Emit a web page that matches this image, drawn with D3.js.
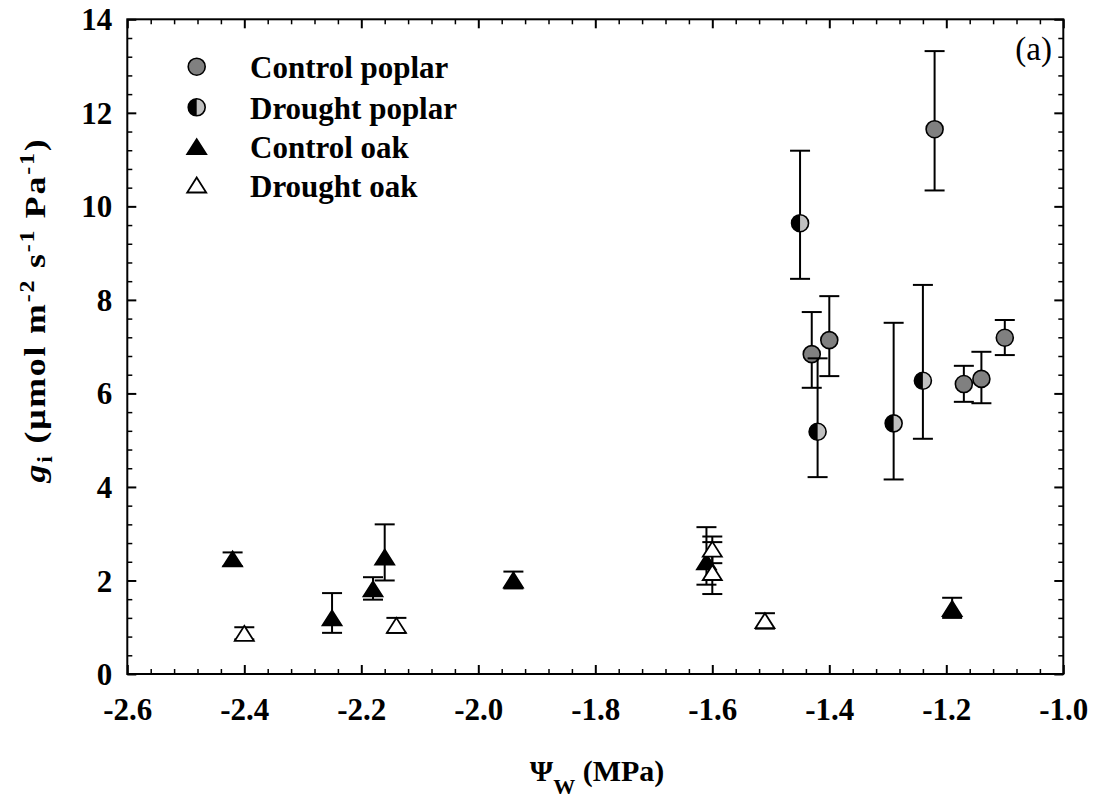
<!DOCTYPE html>
<html><head><meta charset="utf-8">
<script src="https://cdn.jsdelivr.net/npm/d3@7"></script>
<style>body{margin:0;background:#fff} svg{display:block} text{font-family:"Liberation Serif","Times New Roman",serif;}</style>
</head><body>
<svg id="c" width="1096" height="801"></svg>
<script>
// ---- data ----
const controlPoplarX    = [-1.43, -1.40, -1.22, -1.17, -1.14, -1.10];
const controlPoplarY    = [6.84, 7.14, 11.65, 6.20, 6.31, 7.19];
const controlPoplarUp   = [0.90, 0.94, 1.67, 0.39, 0.58, 0.38];
const controlPoplarDown = [0.72, 0.77, 1.31, 0.38, 0.52, 0.37];

const droughtPoplarX    = [-1.45, -1.42, -1.29, -1.24];
const droughtPoplarY    = [9.64, 5.18, 5.36, 6.27];
const droughtPoplarUp   = [1.55, 1.57, 2.15, 2.05];
const droughtPoplarDown = [1.19, 0.97, 1.20, 1.24];

const controlOakX    = [-2.42, -2.25, -2.18, -2.16, -1.94, -1.61, -1.19];
const controlOakY    = [2.46, 1.20, 1.82, 2.50, 2.01, 2.40, 1.40];
const controlOakUp   = [0.14, 0.53, 0.25, 0.70, 0.18, 0.74, 0.23];
const controlOakDown = [0.15, 0.32, 0.23, 0.50, 0.18, 0.49, 0.20];

const droughtOakX    = [-2.40, -2.14, -1.60, -1.60, -1.51];
const droughtOakY    = [0.87, 1.04, 2.67, 2.17, 1.14];
const droughtOakUp   = [0.13, 0.16, 0.27, 0.65, 0.16];
const droughtOakDown = [0.13, 0.16, 0.30, 0.46, 0.17];

const seriesNames = ["Control poplar", "Drought poplar", "Control oak", "Drought oak"];
const xTickValues = [-2.6, -2.4, -2.2, -2.0, -1.8, -1.6, -1.4, -1.2, -1.0];
const xTickLabels = ["-2.6", "-2.4", "-2.2", "-2.0", "-1.8", "-1.6", "-1.4", "-1.2", "-1.0"];
const yTickValues = [0, 2, 4, 6, 8, 10, 12, 14];
const yTickLabels = ["0", "2", "4", "6", "8", "10", "12", "14"];
const panelLabel = "(a)";

// ---- layout ----
const svg = d3.select("#c");
const L = 127.3, R = 1063.3, T = 19.3, B = 674;
const x = d3.scaleLinear().domain([-2.6, -1.0]).range([L, R]);
const y = d3.scaleLinear().domain([0, 14]).range([B, T]);

const xMinor = d3.range(0, 41).map(i => -2.6 + i * 0.04).filter((v, i) => i % 5 !== 0);
const yMinor = d3.range(0, 36).map(i => i * 0.4).filter((v, i) => i % 5 !== 0);

function styleAxis(g, w) {
  g.select(".domain").remove();
  g.selectAll(".tick line").attr("stroke", "#000").attr("stroke-width", w);
}
// bottom
svg.append("g").attr("transform", `translate(0,${B})`)
  .call(d3.axisBottom(x).tickValues(xTickValues).tickFormat((d, i) => xTickLabels[i]).tickSize(-9).tickPadding(0))
  .call(g => styleAxis(g, 2))
  .call(g => g.selectAll("text").attr("y", 46).attr("dy", null)
      .attr("font-size", 31).attr("font-weight", "bold").attr("fill", "#000").attr("font-family", "Liberation Serif"));
svg.append("g").attr("transform", `translate(0,${B})`)
  .call(d3.axisBottom(x).tickValues(xMinor).tickFormat("").tickSize(-5))
  .call(g => styleAxis(g, 1.5));
// top
svg.append("g").attr("transform", `translate(0,${T})`)
  .call(d3.axisTop(x).tickValues(xTickValues).tickFormat("").tickSize(-9))
  .call(g => styleAxis(g, 2));
svg.append("g").attr("transform", `translate(0,${T})`)
  .call(d3.axisTop(x).tickValues(xMinor).tickFormat("").tickSize(-5))
  .call(g => styleAxis(g, 1.5));
// left
svg.append("g").attr("transform", `translate(${L},0)`)
  .call(d3.axisLeft(y).tickValues(yTickValues).tickFormat((d, i) => yTickLabels[i]).tickSize(-9).tickPadding(15))
  .call(g => styleAxis(g, 2))
  .call(g => g.selectAll("text").attr("x", -15).attr("dy", "0.34em")
      .attr("font-size", 31).attr("font-weight", "bold").attr("fill", "#000").attr("font-family", "Liberation Serif"));
svg.append("g").attr("transform", `translate(${L},0)`)
  .call(d3.axisLeft(y).tickValues(yMinor).tickFormat("").tickSize(-5))
  .call(g => styleAxis(g, 1.5));
// right
svg.append("g").attr("transform", `translate(${R},0)`)
  .call(d3.axisRight(y).tickValues(yTickValues).tickFormat("").tickSize(-9))
  .call(g => styleAxis(g, 2));
svg.append("g").attr("transform", `translate(${R},0)`)
  .call(d3.axisRight(y).tickValues(yMinor).tickFormat("").tickSize(-5))
  .call(g => styleAxis(g, 1.5));

// frame
svg.append("rect").attr("x", L).attr("y", T).attr("width", R - L).attr("height", B - T)
  .attr("fill", "none").attr("stroke", "#000").attr("stroke-width", 2);

// ---- markers ----
const CR = 8.5, TW = 19, TH = 15;
function drawMarker(g, type) {
  if (type === 0) {
    g.append("circle").attr("r", CR).attr("fill", "#808080").attr("stroke", "#000").attr("stroke-width", 1.6);
  } else if (type === 1) {
    g.append("circle").attr("r", CR).attr("fill", "#c0c0c0");
    g.append("path").attr("d", `M0,${-CR} A${CR},${CR} 0 0 0 0,${CR} Z`).attr("fill", "#000");
    g.append("circle").attr("r", CR).attr("fill", "none").attr("stroke", "#000").attr("stroke-width", 1.6);
  } else {
    g.append("path").attr("d", `M0,${-TH/2} L${TW/2},${TH/2} L${-TW/2},${TH/2} Z`)
      .attr("fill", type === 2 ? "#000" : "#fff").attr("stroke", "#000").attr("stroke-width", 1.8)
      .attr("stroke-linejoin", "miter");
  }
}

const series = [
  {type: 0, xs: controlPoplarX, ys: controlPoplarY, up: controlPoplarUp, dn: controlPoplarDown},
  {type: 1, xs: droughtPoplarX, ys: droughtPoplarY, up: droughtPoplarUp, dn: droughtPoplarDown},
  {type: 2, xs: controlOakX, ys: controlOakY, up: controlOakUp, dn: controlOakDown},
  {type: 3, xs: droughtOakX, ys: droughtOakY, up: droughtOakUp, dn: droughtOakDown}
];

const CAP = 10;
series.forEach(s => {
  const pts = s.xs.map((xv, i) => ({x: xv, y: s.ys[i], hi: s.ys[i] + s.up[i], lo: s.ys[i] - s.dn[i]}));
  const eb = svg.append("g").attr("stroke", "#000").attr("stroke-width", 2);
  pts.forEach(p => {
    const px = x(p.x);
    eb.append("line").attr("x1", px).attr("x2", px).attr("y1", y(p.hi)).attr("y2", y(p.lo));
    eb.append("line").attr("x1", px - CAP).attr("x2", px + CAP).attr("y1", y(p.hi)).attr("y2", y(p.hi));
    eb.append("line").attr("x1", px - CAP).attr("x2", px + CAP).attr("y1", y(p.lo)).attr("y2", y(p.lo));
  });
  pts.forEach(p => {
    const g = svg.append("g").attr("transform", `translate(${x(p.x)},${y(p.y)})`);
    drawMarker(g, s.type);
  });
});

// ---- legend ----
const legY = [66.7, 107.3, 146.7, 185];
seriesNames.forEach((name, i) => {
  const g = svg.append("g").attr("transform", `translate(196.7,${legY[i]})`);
  drawMarker(g, i);
  svg.append("text").attr("x", 250).attr("y", legY[i] + 11.5)
    .attr("font-size", 31).attr("font-weight", "bold").text(name);
});

// panel label
svg.append("text").attr("x", 1052).attr("y", 60).attr("text-anchor", "end")
  .attr("font-size", 33).text(panelLabel);

// x axis title
const xt = svg.append("text").attr("x", 597).attr("y", 781).attr("text-anchor", "middle")
  .attr("font-size", 30).attr("font-weight", "bold");
xt.append("tspan").text("Ψ");
xt.append("tspan").attr("font-size", 22).attr("dy", 13).text("W");
xt.append("tspan").attr("dy", -13).text(" (MPa)");

// y axis title
const yt = svg.append("text").attr("text-anchor", "middle").attr("font-size", 30)
  .attr("font-weight", "bold").attr("letter-spacing", 1.5);
yt.append("tspan").attr("font-style", "italic").text("g");
yt.append("tspan").attr("font-size", 20).attr("dy", 7).text("i");
yt.append("tspan").attr("dy", -7).text(" (μmol m");
yt.append("tspan").attr("font-size", 20).attr("dy", -11).text("-2");
yt.append("tspan").attr("dy", 11).text(" s");
yt.append("tspan").attr("font-size", 20).attr("dy", -11).text("-1");
yt.append("tspan").attr("dy", 11).text(" Pa");
yt.append("tspan").attr("font-size", 20).attr("dy", -11).text("-1");
yt.append("tspan").attr("dy", 11).text(")");
const natural = yt.node().getComputedTextLength();
const sx = 345 / natural;
yt.attr("transform", `translate(45,310) rotate(-90) scale(${sx},1)`);
</script>
</body></html>
